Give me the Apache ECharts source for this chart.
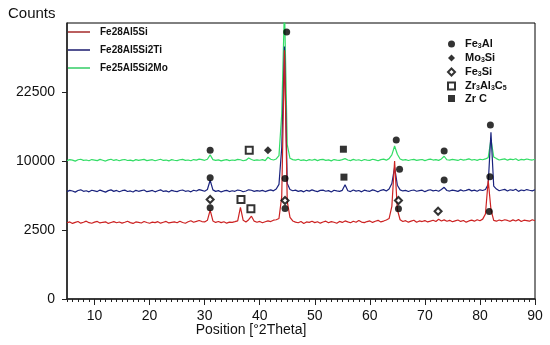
<!DOCTYPE html>
<html>
<head>
<meta charset="utf-8">
<script src="https://cdn.jsdelivr.net/npm/echarts@6/dist/echarts.min.js"></script>
<style>html,body{margin:0;padding:0;background:#fff;}#c{width:550px;height:345px;}</style>
</head>
<body>
<div id="c"></div>
<script>
// 2θ grid (degrees), step 0.5
const angles = [5,5.5,6,6.5,7,7.5,8,8.5,9,9.5,10,10.5,11,11.5,12,12.5,13,13.5,14,14.5,15,15.5,16,16.5,17,17.5,18,18.5,19,19.5,20,20.5,21,21.5,22,22.5,23,23.5,24,24.5,25,25.5,26,26.5,27,27.5,28,28.5,29,29.5,30,30.5,31,31.5,32,32.5,33,33.5,34,34.5,35,35.5,36,36.5,37,37.5,38,38.5,39,39.5,40,40.5,41,41.5,42,42.5,43,43.5,44,44.5,45,45.5,46,46.5,47,47.5,48,48.5,49,49.5,50,50.5,51,51.5,52,52.5,53,53.5,54,54.5,55,55.5,56,56.5,57,57.5,58,58.5,59,59.5,60,60.5,61,61.5,62,62.5,63,63.5,64,64.5,65,65.5,66,66.5,67,67.5,68,68.5,69,69.5,70,70.5,71,71.5,72,72.5,73,73.5,74,74.5,75,75.5,76,76.5,77,77.5,78,78.5,79,79.5,80,80.5,81,81.5,82,82.5,83,83.5,84,84.5,85,85.5,86,86.5,87,87.5,88,88.5,89,89.5,90];

const fe28al5si = [
3050,3120,3000,3080,3150,3020,3090,3180,3060,3010,
3100,3160,3040,3090,3130,3000,3070,3140,3050,3110,
3020,3090,3170,3060,3000,3120,3080,3030,3150,3070,
3010,3100,3060,3140,3020,3090,3160,3040,3080,3120,
3050,3180,3070,3010,3130,3220,3090,3160,3240,3150,
3120,3250,4150,3200,3080,3150,3060,3130,3020,3100,
3080,3140,3210,4400,3250,3120,3300,3600,3180,3090,
3160,3050,3130,3200,3150,3260,3300,3400,5500,32500,
5000,3500,3200,3100,3050,3150,3000,3120,3080,3170,
3060,3130,3020,3110,3180,3050,3140,3090,3010,3160,
3080,3200,3120,3050,3170,3090,3240,3110,3060,3150,
3200,3080,3170,3250,3120,3190,3280,3400,4500,10000,
4200,3300,3150,3220,3100,3180,3260,3090,3200,3150,
3230,3120,3180,3260,3150,3340,3200,3290,3170,3250,
3130,3210,3280,3160,3240,3100,3200,3270,3180,3300,
3220,3350,3800,7400,4200,3250,3180,3280,3210,3300,
3240,3170,3290,3200,3310,3150,3260,3230,3180,3300,3220];

const fe28al5si2ti = [
6050,6200,6120,6000,6180,6260,6090,6150,6030,6210,
6140,6060,6230,6110,6000,6170,6250,6080,6190,6040,
6160,6220,6070,6130,6010,6200,6090,6170,6240,6050,
6120,6190,6030,6150,6260,6080,6140,6010,6200,6110,
6060,6180,6240,6090,6150,6030,6210,6120,6280,6190,
6100,6300,7400,6250,6080,6170,6020,6130,6200,6060,
6150,6090,6230,6180,6040,6120,6260,6210,6080,6160,
6110,6200,6060,6170,6250,6140,6350,6900,12000,33500,
7000,6300,6150,6220,6080,6170,6030,6200,6110,6250,
6140,6060,6190,6230,6100,6170,6020,6210,6130,6080,
6200,6850,6150,6060,6240,6110,6180,6030,6220,6140,
6090,6250,6160,6030,6200,6280,6120,6350,7000,9100,
6800,6250,6130,6200,6070,6180,6240,6100,6160,6220,
6050,6190,6270,6140,6210,6090,6300,6550,6180,6120,
6230,6160,6080,6250,6120,6200,6310,6140,6220,6090,
6260,6180,6300,6900,14600,6700,6350,6150,6240,6310,
6120,6270,6190,6330,6080,6240,6160,6290,6210,6140,6260];

const fe25al5si2mo = [
10050,10200,10120,9980,10180,10260,10090,10150,10030,10210,
10140,10060,10230,10110,9990,10170,10250,10080,10190,10040,
10160,10220,10070,10130,10010,10200,10090,10170,10240,10050,
10120,10190,10030,10150,10260,10080,10140,10010,10200,10110,
10060,10180,10240,10090,10150,10030,10210,10120,10280,10190,
10100,10250,10900,10200,10080,10170,10020,10130,10200,10060,
10150,10090,10230,10180,10040,10120,10450,10220,10080,10160,
10110,10200,10060,10550,10250,10140,10300,10800,18000,45000,
12500,10400,10200,10120,10250,10080,10170,10030,10200,10110,
10240,10060,10190,10230,10100,10170,10020,10210,10130,10080,
10200,10350,10150,10060,10240,10110,10180,10030,10220,10140,
10090,10250,10160,10030,10200,10280,10120,10350,10900,12300,
11000,10300,10130,10200,10070,10180,10240,10100,10160,10220,
10050,10190,10270,10140,10210,10090,10300,10700,10180,10120,
10230,10160,10080,10250,10120,10200,10310,10140,10220,10090,
10260,10180,10300,10500,13400,10600,10350,10150,10240,10310,
10120,10270,10190,10330,10080,10240,10160,10290,10210,10140,10260];

// phase markers: [2θ, counts]
const fe3alMarks = [[31.0,11620],[44.9,37450],[64.8,13290],[73.5,11510],[81.9,15880],
  [31.0,7730],[44.6,7640],[65.4,8830],[73.5,7430],[81.8,7850],
  [31.0,4365],[44.6,4295],[65.2,4270],[81.7,4015]];
const mo3siMarks = [[41.5,11620]];
const fe3siMarks = [[31.0,5200],[44.6,5095],[65.2,5095],[72.4,4040]];
const zr3al3c5Marks = [[38.1,11620],[36.6,5200],[38.4,4270]];
const zrcMarks = [[55.2,11780],[55.3,7800]];

const xLabelTicks = [10,20,30,40,50,60,70,80,90];
const yTickCounts = [0,2500,10000,22500];

const FONT = 'Liberation Sans, Arial, sans-serif';
const sq = v => Math.sqrt(v);
const lineData = arr => angles.map((a,i)=>[a, sq(arr[i])]);
const markData = arr => arr.map(p=>[p[0], sq(p[1])]);

const chart = echarts.init(document.getElementById('c'), null, {renderer:'canvas'});
const names = {
  red:'Fe28Al5Si', blue:'Fe28Al5Si2Ti', green:'Fe25Al5Si2Mo',
  fe3al:'Fe3Al', mo3si:'Mo3Si', fe3si:'Fe3Si', zr:'Zr3Al3C5', zrc:'Zr C'
};
const richNames = {
  'Fe3Al':'{n|Fe}{s|3}{n|Al}',
  'Mo3Si':'{n|Mo}{s|3}{n|Si}',
  'Fe3Si':'{n|Fe}{s|3}{n|Si}',
  'Zr3Al3C5':'{n|Zr}{s|3}{n|Al}{s|3}{n|C}{s|5}',
  'Zr C':'{n|Zr C}'
};

chart.setOption({
  animation:false,
  backgroundColor:'#fff',
  textStyle:{fontFamily:FONT},
  grid:{left:67, right:15, top:23, bottom:46, show:true, borderColor:'#000', borderWidth:1},
  xAxis:[{
    type:'value', min:5, max:90, interval:1, position:'bottom',
    axisLine:{show:true, onZero:false, lineStyle:{color:'#222', width:1.5}},
    axisTick:{show:true, length:3, lineStyle:{color:'#222'}},
    axisLabel:{customValues:xLabelTicks, fontSize:14, color:'#111', margin:10, fontFamily:FONT},
    splitLine:{show:false}
  },{
    type:'value', min:5, max:90, position:'bottom', gridIndex:0,
    axisLine:{show:false},
    axisTick:{show:true, length:6, customValues:xLabelTicks, lineStyle:{color:'#222'}},
    axisLabel:{show:false},
    splitLine:{show:false}
  }],
  yAxis:{
    type:'value', min:0, max:200, interval:50,
    axisLine:{show:true, onZero:false, lineStyle:{color:'#222', width:1.5}},
    axisTick:{show:true, length:5, customValues:yTickCounts.map(sq), lineStyle:{color:'#222'}},
    axisLabel:{customValues:yTickCounts.map(sq), formatter:v=>String(Math.round(v*v)), fontSize:14, color:'#111', margin:12, fontFamily:FONT},
    splitLine:{show:false}
  },
  legend:[{
    data:[
      {name:names.red, icon:'rect', itemStyle:{color:'#a52a2a'}},
      {name:names.blue, icon:'rect', itemStyle:{color:'#1a1a6e'}},
      {name:names.green, icon:'rect', itemStyle:{color:'#33cc66'}}
    ],
    orient:'vertical', left:68, top:26, padding:0, itemWidth:22, itemHeight:1.5, itemGap:6,
    textStyle:{fontSize:10, fontWeight:'bold', color:'#111', fontFamily:FONT, lineHeight:12, padding:[0,0,0,5]}
  },{
    data:[names.fe3al, names.mo3si, names.fe3si, names.zr, names.zrc],
    orient:'vertical', left:447, top:37, padding:0, itemWidth:7, itemHeight:7, itemGap:1,
    formatter:n=>richNames[n],
    textStyle:{fontSize:11, color:'#111', fontFamily:FONT, padding:[0,0,0,5],
      rich:{n:{fontSize:11, fontWeight:'bold', color:'#111', lineHeight:12, verticalAlign:'middle', fontFamily:FONT},
            s:{fontSize:7, fontWeight:'bold', color:'#111', lineHeight:12, verticalAlign:'bottom', padding:[6,0,0,0], fontFamily:FONT}}}
  }],
  graphic:[
    {type:'text', left:8, top:6, style:{text:'Counts', fontSize:15, fill:'#111', fontFamily:FONT}},
    {type:'text', x:251, y:330, style:{text:'Position [°2Theta]', fontSize:14, fill:'#111', fontFamily:FONT, align:'center', verticalAlign:'middle'}}
  ],
  series:[
    {name:names.green, type:'line', data:lineData(fe25al5si2mo), symbol:'none', lineStyle:{color:'#33dd66', width:1.2}, itemStyle:{color:'#33dd66'}},
    {name:names.blue, type:'line', data:lineData(fe28al5si2ti), symbol:'none', lineStyle:{color:'#1a237e', width:1.2}, itemStyle:{color:'#1a237e'}},
    {name:names.red, type:'line', data:lineData(fe28al5si), symbol:'none', lineStyle:{color:'#cc2222', width:1.2}, itemStyle:{color:'#b22222'}},
    {name:names.fe3al, type:'scatter', data:markData(fe3alMarks), symbol:'circle', symbolSize:7, itemStyle:{color:'#000'}, z:5},
    {name:names.mo3si, type:'scatter', data:markData(mo3siMarks), symbol:'diamond', symbolSize:8, itemStyle:{color:'#000'}, z:5},
    {name:names.fe3si, type:'scatter', data:markData(fe3siMarks), symbol:'emptyDiamond', symbolSize:7, itemStyle:{color:'#000', borderColor:'#000', borderWidth:2}, z:5},
    {name:names.zr, type:'scatter', data:markData(zr3al3c5Marks), symbol:'emptyRect', symbolSize:7, itemStyle:{color:'#000', borderColor:'#000', borderWidth:1.5}, z:5},
    {name:names.zrc, type:'scatter', data:markData(zrcMarks), symbol:'rect', symbolSize:7, itemStyle:{color:'#000'}, z:5}
  ]
});
</script>
</body>
</html>
